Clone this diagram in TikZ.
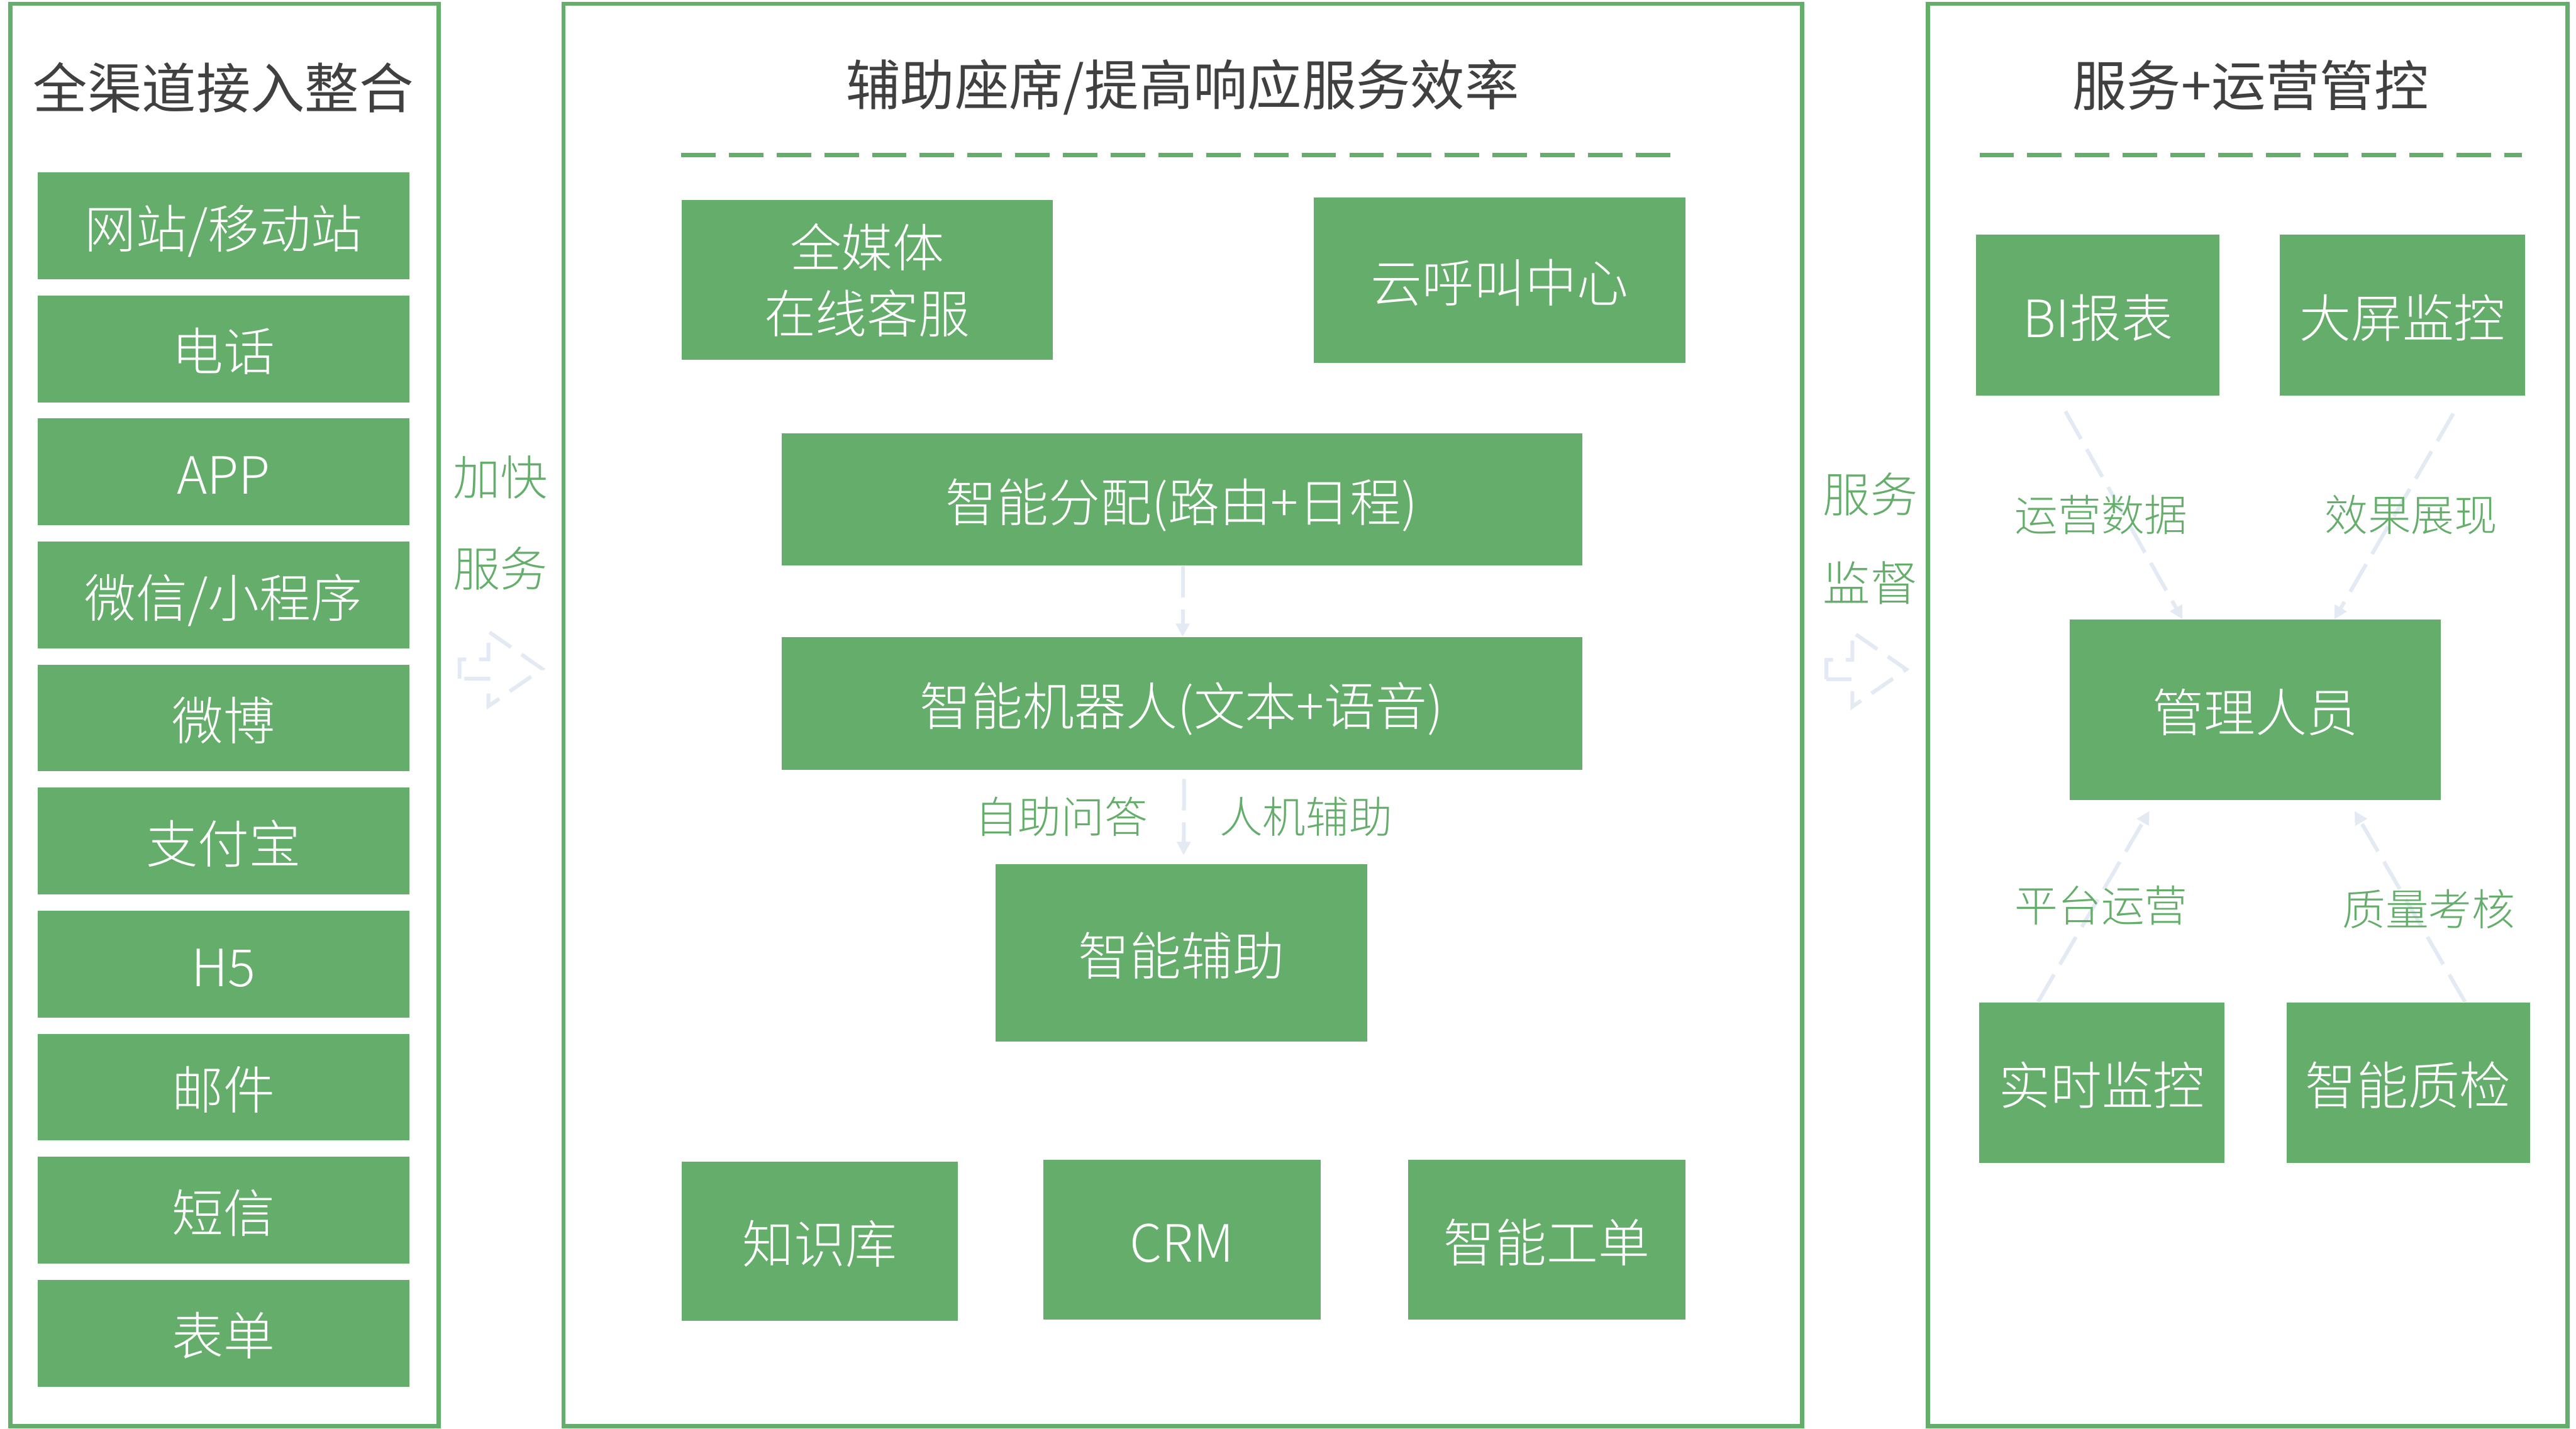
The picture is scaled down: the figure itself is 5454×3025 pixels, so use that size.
\documentclass[tikz,border=0pt]{standalone}
\usepackage{fontspec}
\setmainfont{Noto Sans CJK SC}[UprightFont={* Light}]
\newfontfamily\regfont{Noto Sans CJK SC}
\usetikzlibrary{arrows.meta}
\definecolor{gr}{HTML}{64AD6A}
\definecolor{lt}{HTML}{E3EAF3}
\definecolor{tx}{HTML}{404040}
\begin{document}
\begin{tikzpicture}[x=0.01cm,y=-0.01cm,
  gbox/.style={fill=gr, draw=none, text=white, font=\fontsize{31}{39.5}\selectfont, inner sep=0pt, align=center},
  sbox/.style={gbox, text height=30.4pt, text depth=3.7pt},
  frame/.style={draw=gr, line width=0.9mm},
  ttl/.style={text=tx, font=\regfont\fontsize{32.7}{36}\selectfont, inner sep=0pt},
  lbl/.style={text=gr, font=\fontsize{26}{30}\selectfont, inner sep=0pt},
  side/.style={text=gr, font=\fontsize{28.5}{32}\selectfont, inner sep=0pt},
  gdash/.style={draw=gr, line width=1mm, dash pattern=on 7.3mm off 2.8mm},
  larrow/.style={draw=lt, line width=0.8mm, dash pattern=on 6.7mm off 2.5mm, -{Triangle[length=2.8mm,width=2.8mm]}},
  hollow/.style={draw=lt, line width=0.8mm, dash pattern=on 5.5mm off 2.7mm, line join=miter},
  lbox/.style={sbox, minimum width=7.86cm, minimum height=2.26cm}
]
\useasboundingbox (0,0) rectangle (5454,3025);
\fill[white] (0,0) rectangle (5454,3025);

% frames
\draw[frame] (21.5,8) rectangle (929,3019);
\draw[frame] (1193,8) rectangle (3815,3019);
\draw[frame] (4082,8) rectangle (5436,3019);

% titles
\node[ttl] (t1) at (473,186) {全渠道接入整合};
\node[ttl] (t2) at (2504,184) {辅助座席/提高响应服务效率};
\node[ttl] (t3) at (4765,181) {服务+运营管控};

\draw[gdash] (1442,328) -- (3562,328);
\draw[gdash] (4191,328) -- (5339,328);

% left column
\node[lbox] (c1) at (473,478) {网站/移动站};
\node[lbox] (c2) at (473,738.5) {电话};
\node[lbox] (c3) at (473,999) {APP};
\node[lbox] (c4) at (473,1259.5) {微信/小程序};
\node[lbox] (c5) at (473,1520) {微博};
\node[lbox] (c6) at (473,1780.5) {支付宝};
\node[lbox] (c7) at (473,2041) {H5};
\node[lbox] (c8) at (473,2301.5) {邮件};
\node[lbox] (c9) at (473,2562) {短信};
\node[lbox] (c10) at (473,2822.5) {表单};

% side labels
\node[side] (s1) at (1059,1011) {加快};
\node[side] (s2) at (1059,1204) {服务};
\node[side] (s3) at (3960,1047) {服务};
\node[side] (s4) at (3960,1234) {监督};

\draw[hollow] (973,1437) -- (973,1396) -- (1034,1396) -- (1034,1337) -- (1148,1416) -- (1034,1495) -- (1034,1437) -- cycle;
\draw[hollow] (3867,1438) -- (3867,1397) -- (3922,1397) -- (3922,1338) -- (4036,1417) -- (3922,1496) -- (3922,1438) -- cycle;

% middle
\node[gbox, minimum width=7.86cm, minimum height=3.38cm] (qmt) at (1836,593) {全媒体\\在线客服};
\node[sbox, minimum width=7.86cm, minimum height=3.50cm] (yhj) at (3175,593) {云呼叫中心};
\node[sbox, minimum width=16.94cm, minimum height=2.79cm] (fp) at (2502,1057.5) {智能分配(路由+日程)};
\node[sbox, minimum width=16.94cm, minimum height=2.81cm] (jqr) at (2502,1489.5) {智能机器人(文本+语音)};
\node[sbox, minimum width=7.86cm, minimum height=3.76cm] (fz) at (2501,2017) {智能辅助};
\node[sbox, minimum width=5.85cm, minimum height=3.37cm] (zsk) at (1735.5,2627.5) {知识库};
\node[sbox, minimum width=5.87cm, minimum height=3.37cm] (crm) at (2502.5,2624.5) {CRM};
\node[sbox, minimum width=5.87cm, minimum height=3.37cm] (gd) at (3274.5,2624.5) {智能工单};

\draw[larrow] ([xshift=0.02cm]fp.south) -- ([xshift=0.02cm]jqr.north);
\draw[larrow, shorten <=0.18cm, shorten >=0.18cm] ([xshift=0.05cm]jqr.south) -- ([xshift=0.05cm]fz.north);
\node[lbl] (l1) at (2247,1729) {自助问答};
\node[lbl] (l2) at (2765,1729) {人机辅助};

% right
\node[sbox, minimum width=5.15cm, minimum height=3.41cm] (bi) at (4441.5,667.5) {BI报表};
\node[sbox, minimum width=5.19cm, minimum height=3.41cm] (dp) at (5086.5,667.5) {大屏监控};
\node[sbox, minimum width=7.86cm, minimum height=3.81cm] (gl) at (4775,1502.5) {管理人员};
\node[sbox, minimum width=5.18cm, minimum height=3.40cm] (ss) at (4450,2292) {实时监控};
\node[sbox, minimum width=5.15cm, minimum height=3.40cm] (zj) at (5098.5,2292) {智能质检};

\draw[larrow] ([xshift=-0.685cm,yshift=-0.32cm]bi.south) -- ([xshift=-1.54cm]gl.north);
\draw[larrow] ([xshift=1.075cm,yshift=-0.37cm]dp.south) -- ([xshift=1.67cm]gl.north);
\draw[larrow] ([xshift=-1.35cm]ss.north) -- ([xshift=-2.24cm,yshift=-0.23cm]gl.south);
\draw[larrow] ([xshift=1.205cm]zj.north) -- ([xshift=2.10cm,yshift=-0.23cm]gl.south);

\node[lbl] (l3) at (4449,1090) {运营数据};
\node[lbl] (l4) at (5105,1090) {效果展现};
\node[lbl] (l5) at (4449,1917) {平台运营};
\node[lbl] (l6) at (5142,1925) {质量考核};
\end{tikzpicture}
\end{document}
